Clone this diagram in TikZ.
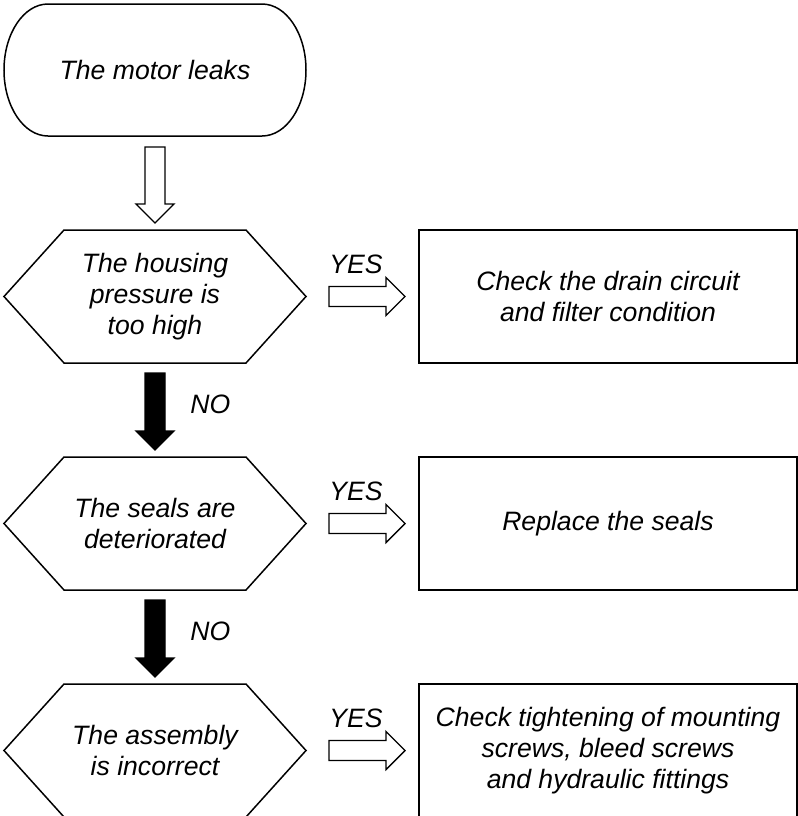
\documentclass[tikz,border=0pt]{standalone}
\usepackage{fontspec}
\setmainfont{Liberation Sans}
\usetikzlibrary{positioning,calc}

\tikzset{
    flowtext/.style={font=\fontsize{13.3pt}{15.5pt}\selectfont\itshape, align=center},
    startbox/.style={flowtext, minimum width=151pt, minimum height=66pt, inner sep=0pt, outer sep=0pt},
    testbox/.style={flowtext, minimum width=151pt, minimum height=66.5pt, inner sep=0pt, outer sep=0pt},
    actionbox/.style={flowtext, draw, line width=0.75pt, minimum width=189pt, minimum height=66.5pt, inner sep=0pt, outer sep=0pt},
    answer/.style={font=\fontsize{13.3pt}{15.5pt}\selectfont\itshape, inner sep=0pt},
    outline/.style={draw, line width=0.75pt, line join=miter},
    hollowarrow/.style={draw, fill=white, line width=0.7pt, line join=miter},
    solidarrow/.style={draw, fill=black, line width=0.7pt, line join=miter}
}

% Frame of a test (flat hexagon)
\newcommand{\hexframe}[1]{%
    \draw[outline] ([xshift=30pt]#1.north west) -- ([xshift=-30pt]#1.north east) -- (#1.east)
        -- ([xshift=-30pt]#1.south east) -- ([xshift=30pt]#1.south west) -- (#1.west) -- cycle;}

% Frame of the start (rounded ends)
\newcommand{\roundframe}[1]{%
    \draw[outline] ([xshift=22pt]#1.north west) -- ([xshift=-22pt]#1.north east)
        arc[start angle=90, end angle=-90, x radius=22pt, y radius=33pt]
        -- ([xshift=22pt]#1.south west)
        arc[start angle=270, end angle=90, x radius=22pt, y radius=33pt] -- cycle;}

% Block arrow: style, from, to
\newcommand{\blockarrow}[3]{%
    \coordinate (ba-h) at ($(#3)!9.5pt!(#2)$);
    \draw[#1] ($(#2)!5pt!90:(#3)$) -- ($(ba-h)!5pt!90:(#3)$) -- ($(ba-h)!9.5pt!90:(#3)$)
        -- (#3) -- ($(ba-h)!9.5pt!-90:(#3)$) -- ($(ba-h)!5pt!-90:(#3)$)
        -- ($(#2)!5pt!-90:(#3)$) -- cycle;}

\begin{document}
\begin{tikzpicture}
        \useasboundingbox (0,0) rectangle (399pt,-408pt);

        % Setup the structure
        \node[startbox] (leak) at (77.5pt,-35pt) {The motor leaks};
        \node[testbox, below=47pt of leak] (housing) {The housing\\pressure is\\too high};
        \node[testbox, below=47pt of housing] (seals) {The seals are\\deteriorated};
        \node[testbox, below=47pt of seals] (assembly) {The assembly\\is incorrect};

        \node[actionbox, right=56.5pt of housing] (drain) {Check the drain circuit\\and filter condition};
        \node[actionbox, right=56.5pt of seals] (replace) {Replace the seals};
        \node[actionbox, right=56.5pt of assembly] (tighten) {Check tightening of mounting\\screws, bleed screws\\and hydraulic fittings};

        \roundframe{leak}
        \hexframe{housing}
        \hexframe{seals}
        \hexframe{assembly}

        % Arrow ends
        \coordinate (d0s) at ([yshift=-5.5pt]leak.south);
        \coordinate (d0e) at ([yshift=3.5pt]housing.north);
        \coordinate (d1s) at ([yshift=-5pt]housing.south);
        \coordinate (d1e) at ([yshift=3.5pt]seals.north);
        \coordinate (d2s) at ([yshift=-5pt]seals.south);
        \coordinate (d2e) at ([yshift=3.5pt]assembly.north);
        \coordinate (r1s) at ([xshift=11.5pt]housing.east);
        \coordinate (r1e) at ([xshift=-7pt]drain.west);
        \coordinate (r2s) at ([xshift=11.5pt]seals.east);
        \coordinate (r2e) at ([xshift=-7pt]replace.west);
        \coordinate (r3s) at ([xshift=11.5pt]assembly.east);
        \coordinate (r3e) at ([xshift=-7pt]tighten.west);

        % Arrows
        \blockarrow{hollowarrow}{d0s}{d0e}
        \blockarrow{solidarrow}{d1s}{d1e}
        \blockarrow{solidarrow}{d2s}{d2e}
        \blockarrow{hollowarrow}{r1s}{r1e}
        \blockarrow{hollowarrow}{r2s}{r2e}
        \blockarrow{hollowarrow}{r3s}{r3e}

        % Answers
        \node[answer, anchor=base west] (yes1) at ([yshift=11.5pt]r1s) {YES};
        \node[answer, anchor=base west] (yes2) at ([yshift=11.5pt]r2s) {YES};
        \node[answer, anchor=base west] (yes3) at ([yshift=11.5pt]r3s) {YES};
        \node[answer, anchor=base west] (no1) at ([xshift=17.5pt,yshift=-20pt]d1s) {NO};
        \node[answer, anchor=base west] (no2) at ([xshift=17.5pt,yshift=-20pt]d2s) {NO};

    \end{tikzpicture}
\end{document}
